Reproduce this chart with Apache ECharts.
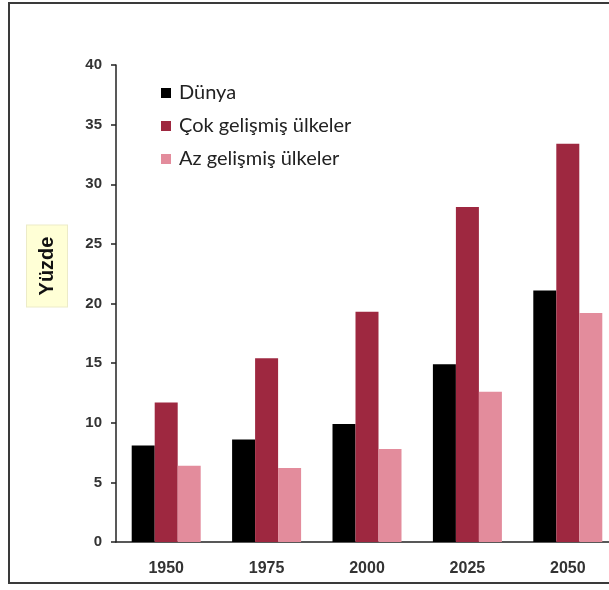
<!DOCTYPE html>
<html>
<head>
<meta charset="utf-8">
<script src="https://cdn.jsdelivr.net/npm/echarts@6/dist/echarts.min.js"></script>
<style>
  html, body { margin: 0; padding: 0; background: #fff; }
  #chart { width: 609px; height: 590px; }
</style>
</head>
<body>
<div id="chart"></div>
<script>
// Share of population aged 60+ (percent), by region
const years = ['1950', '1975', '2000', '2025', '2050'];
const dunya = [8.1, 8.6, 9.9, 14.9, 21.1];
const cokGelismis = [11.7, 15.4, 19.3, 28.1, 33.4];
const azGelismis = [6.4, 6.2, 7.8, 12.6, 19.2];
const yTicks = [0, 5, 10, 15, 20, 25, 30, 35, 40];

const seriesNames = ['Dünya', 'Çok gelişmiş ülkeler', 'Az gelişmiş ülkeler'];
const seriesColors = ['#000000', '#9e2840', '#e38c9c'];
const seriesData = [dunya, cokGelismis, azGelismis];

const chart = echarts.init(document.getElementById('chart'));

chart.setOption({
  animation: false,
  backgroundColor: '#ffffff',
  textStyle: { fontFamily: 'Liberation Sans, Arial, sans-serif' },
  graphic: [
    {
      // frame around the whole chart
      type: 'rect',
      shape: { x: 9, y: 3, width: 700, height: 580 },
      style: { fill: 'none', stroke: '#3a3a3a', lineWidth: 2 },
      z: 100
    },
    {
      // value-axis title in a shaded box
      type: 'text',
      x: 47,
      y: 266,
      rotation: Math.PI / 2,
      style: {
        text: 'Yüzde',
        fontFamily: 'Liberation Sans, Arial, sans-serif',
        fontSize: 20,
        fontWeight: 'bold',
        fill: '#111',
        align: 'center',
        verticalAlign: 'middle',
        backgroundColor: '#ffffd6',
        borderColor: '#ecebc8',
        borderWidth: 1,
        padding: [10, 11, 10, 11]
      },
      z: 50
    }
  ],
  legend: {
    orient: 'vertical',
    left: 156,
    top: 78,
    itemWidth: 10,
    itemHeight: 10,
    itemGap: 13,
    icon: 'rect',
    textStyle: {
      fontFamily: 'Lato, sans-serif',
      fontSize: 20,
      color: '#222',
      padding: [0, 0, 0, 3]
    },
    data: seriesNames
  },
  grid: { left: 116, top: 65, height: 477, width: 502, outerBoundsMode: 'none' },
  xAxis: {
    type: 'category',
    data: years,
    axisLine: { lineStyle: { color: '#222', width: 1.5 } },
    axisTick: { show: false },
    axisLabel: { margin: 19, fontSize: 16, fontWeight: 'bold', color: '#333' }
  },
  yAxis: {
    type: 'value',
    min: yTicks[0],
    max: yTicks[yTicks.length - 1],
    interval: 5,
    splitLine: { show: false },
    axisLine: { show: true, lineStyle: { color: '#222', width: 1.5 } },
    axisTick: { show: true, length: 5, lineStyle: { color: '#222', width: 1.5 } },
    axisLabel: { margin: 14, fontSize: 15, fontWeight: 'bold', color: '#333' }
  },
  series: seriesNames.map((name, i) => ({
    name: name,
    type: 'bar',
    data: seriesData[i],
    barWidth: 23,
    barGap: '0%',
    itemStyle: { color: seriesColors[i] }
  }))
});
</script>
</body>
</html>
